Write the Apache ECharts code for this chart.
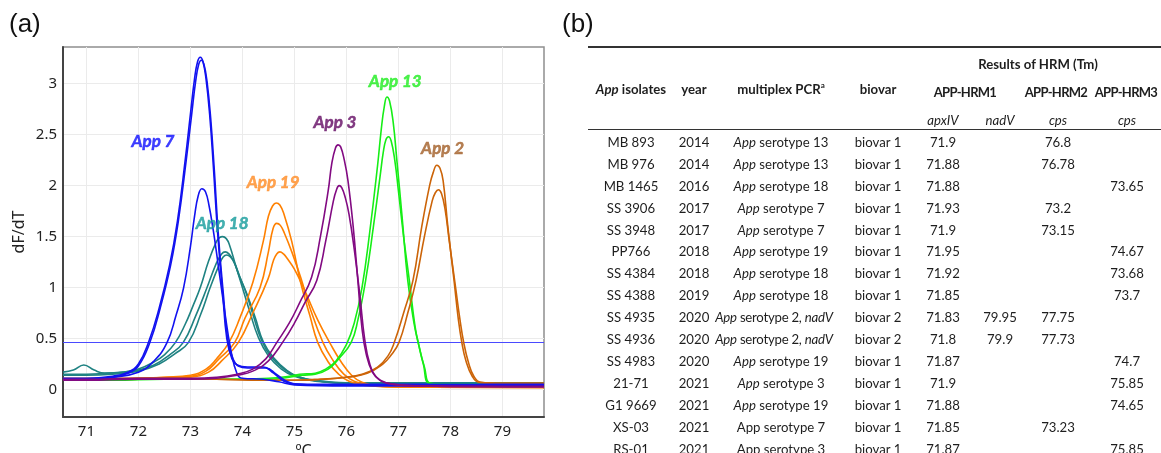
<!DOCTYPE html>
<html><head><meta charset="utf-8">
<script src="https://cdn.jsdelivr.net/npm/echarts@6/dist/echarts.min.js"></script>
<style>
html,body{margin:0;padding:0;background:#fff;width:1161px;height:453px;overflow:hidden;}
#chart{position:absolute;left:0;top:0;width:1161px;height:453px;}
.t{position:absolute;white-space:nowrap;font-family:Lato,'Open Sans',sans-serif;font-size:13.2px;color:#1e1e1e;text-align:center;width:200px;line-height:16px;}
.b{font-weight:bold;}
.n{letter-spacing:-0.7px;font-size:13px;}
.s{letter-spacing:-0.25px;}
.rule{position:absolute;background:#333;}
.panel{position:absolute;font-family:'Liberation Sans',Arial,sans-serif;font-size:26px;color:#111;line-height:30px;}
sup{font-size:8px;vertical-align:6px;line-height:0;}
</style></head><body>
<div id="chart"></div>
<div id="table"></div>
<script>
// ---------- panel (a) data ----------
const tempTicks = [71,72,73,74,75,76,77,78,79];
const dfTicks = [0,0.5,1,1.5,2,2.5,3];
const threshold = 0.46;

// App 7 (blue)
const app7a = [[70.55,0.11],[71.0,0.11],[71.5,0.13],[71.8,0.17],[72.0,0.25],[72.2,0.47],[72.4,0.8],[72.6,1.22],[72.75,1.65],[72.9,2.25],[73.0,2.7],[73.08,3.05],[73.14,3.22],[73.19,3.26],[73.24,3.22],[73.3,3.05],[73.37,2.7],[73.44,2.2],[73.52,1.56],[73.62,0.95],[73.7,0.5],[73.8,0.3],[73.9,0.24],[74.1,0.22],[74.4,0.22],[74.6,0.16],[74.8,0.08],[75.0,0.055],[75.5,0.05],[77,0.05],[79.8,0.05]];
const app7b = [[70.55,0.1],[71.0,0.1],[71.5,0.12],[71.8,0.16],[72.0,0.23],[72.22,0.46],[72.42,0.8],[72.62,1.22],[72.77,1.66],[72.92,2.25],[73.02,2.68],[73.1,3.02],[73.16,3.19],[73.21,3.23],[73.26,3.19],[73.32,3.02],[73.39,2.66],[73.46,2.15],[73.54,1.5],[73.64,0.9],[73.72,0.48],[73.82,0.3],[73.92,0.23],[74.1,0.21],[74.45,0.21],[74.65,0.15],[74.85,0.08],[75.05,0.05],[75.5,0.045],[77,0.045],[79.8,0.045]];
const app7c = [[70.55,0.09],[71.0,0.1],[71.5,0.12],[72.0,0.17],[72.3,0.28],[72.55,0.46],[72.72,0.72],[72.87,1.0],[73.0,1.4],[73.08,1.7],[73.15,1.9],[73.22,1.97],[73.29,1.94],[73.36,1.8],[73.44,1.56],[73.5,1.35],[73.65,0.8],[73.78,0.38],[73.9,0.15],[74.0,0.11],[74.4,0.1],[74.7,0.075],[75.0,0.045],[76,0.035],[79.8,0.035]];
// App 18 (teal)
const app18a = [[70.55,0.17],[70.75,0.19],[70.95,0.24],[71.15,0.19],[71.35,0.16],[71.7,0.17],[72.0,0.2],[72.3,0.27],[72.5,0.34],[72.71,0.46],[72.9,0.64],[73.05,0.82],[73.19,1.0],[73.35,1.26],[73.5,1.45],[73.56,1.49],[73.62,1.5],[73.69,1.48],[73.75,1.42],[73.88,1.2],[74.0,1.0],[74.15,0.75],[74.3,0.52],[74.5,0.33],[74.75,0.2],[75.0,0.13],[75.4,0.08],[76.0,0.065],[77,0.06],[78,0.06],[79.8,0.06]];
const app18b = [[70.55,0.15],[71.0,0.15],[71.5,0.16],[72.0,0.19],[72.3,0.24],[72.6,0.34],[72.86,0.46],[73.1,0.72],[73.32,1.0],[73.5,1.24],[73.6,1.33],[73.67,1.35],[73.74,1.33],[73.82,1.27],[73.95,1.1],[74.07,0.95],[74.2,0.74],[74.37,0.48],[74.55,0.32],[74.8,0.2],[75.05,0.13],[75.4,0.09],[76,0.065],[77,0.065],[79.8,0.065]];
const app18c = [[70.55,0.14],[71.0,0.14],[71.5,0.15],[72.0,0.18],[72.4,0.25],[72.7,0.35],[72.96,0.46],[73.2,0.74],[73.38,1.0],[73.55,1.22],[73.63,1.3],[73.7,1.32],[73.77,1.3],[73.85,1.24],[73.97,1.08],[74.1,0.92],[74.25,0.7],[74.4,0.47],[74.6,0.31],[74.85,0.19],[75.1,0.12],[75.5,0.08],[76,0.06],[79.8,0.055]];
// App 19 (orange)
const app19a = [[70.55,0.1],[71,0.1],[71.5,0.1],[72,0.11],[72.5,0.12],[73,0.14],[73.3,0.2],[73.5,0.3],[73.74,0.46],[73.95,0.7],[74.2,1.05],[74.4,1.45],[74.5,1.7],[74.58,1.8],[74.65,1.83],[74.72,1.81],[74.8,1.72],[74.95,1.45],[75.12,1.05],[75.3,0.72],[75.45,0.46],[75.65,0.27],[75.85,0.15],[76.05,0.08],[76.35,0.04],[77,0.025],[79.8,0.02]];
const app19b = [[70.55,0.1],[71,0.1],[72,0.11],[72.6,0.12],[73.0,0.13],[73.3,0.18],[73.55,0.3],[73.85,0.46],[74.05,0.7],[74.34,1.0],[74.5,1.35],[74.59,1.58],[74.66,1.63],[74.73,1.61],[74.81,1.53],[74.95,1.35],[75.12,1.1],[75.3,0.8],[75.55,0.46],[75.75,0.28],[75.95,0.15],[76.15,0.08],[76.45,0.04],[77,0.025],[79.8,0.02]];
const app19c = [[70.55,0.09],[71,0.09],[72,0.1],[72.6,0.11],[73.0,0.12],[73.35,0.17],[73.6,0.28],[73.92,0.46],[74.2,0.75],[74.49,1.08],[74.6,1.27],[74.66,1.33],[74.72,1.35],[74.79,1.33],[74.87,1.28],[75.0,1.18],[75.2,0.97],[75.45,0.68],[75.7,0.44],[75.9,0.27],[76.1,0.14],[76.3,0.07],[76.6,0.035],[77,0.025],[79.8,0.02]];
// App 3 (purple)
const app3a = [[70.55,0.1],[71,0.1],[72,0.11],[73,0.11],[73.5,0.12],[73.9,0.15],[74.2,0.2],[74.45,0.3],[74.66,0.46],[74.9,0.65],[75.1,0.85],[75.33,1.1],[75.5,1.5],[75.65,1.95],[75.72,2.22],[75.79,2.37],[75.84,2.4],[75.89,2.38],[75.96,2.25],[76.03,2.05],[76.13,1.6],[76.22,1.07],[76.3,0.6],[76.38,0.35],[76.5,0.17],[76.65,0.09],[76.9,0.05],[77.5,0.035],[78.5,0.03],[79.8,0.03]];
const app3b = [[70.55,0.09],[71,0.09],[72,0.1],[73,0.1],[73.5,0.11],[73.9,0.14],[74.2,0.18],[74.5,0.28],[74.77,0.46],[75.0,0.65],[75.2,0.85],[75.43,1.07],[75.6,1.45],[75.75,1.85],[75.81,1.96],[75.86,2.0],[75.91,1.98],[75.98,1.88],[76.05,1.72],[76.15,1.38],[76.26,0.92],[76.35,0.5],[76.45,0.25],[76.58,0.12],[76.8,0.06],[77.3,0.035],[79.8,0.025]];
// App 13 (green)
const app13a = [[70.55,0.1],[71.5,0.1],[72.5,0.1],[73.5,0.1],[74.5,0.11],[74.9,0.13],[75.1,0.15],[75.4,0.16],[75.6,0.2],[75.8,0.28],[76.0,0.44],[76.15,0.65],[76.3,1.0],[76.45,1.55],[76.6,2.2],[76.67,2.55],[76.73,2.78],[76.78,2.87],[76.83,2.83],[76.9,2.62],[76.97,2.25],[77.07,1.7],[77.18,1.07],[77.3,0.65],[77.38,0.46],[77.48,0.25],[77.6,0.06],[78,0.05],[79.8,0.05]];
const app13b = [[70.55,0.09],[71.5,0.09],[72.5,0.1],[73.5,0.1],[74.5,0.1],[74.9,0.12],[75.15,0.14],[75.4,0.15],[75.65,0.2],[75.85,0.3],[76.09,0.46],[76.22,0.68],[76.37,1.07],[76.52,1.6],[76.65,2.1],[76.71,2.33],[76.76,2.45],[76.81,2.48],[76.86,2.44],[76.93,2.25],[77.0,1.95],[77.1,1.5],[77.21,1.07],[77.32,0.62],[77.4,0.42],[77.5,0.22],[77.62,0.06],[78,0.05],[79.8,0.05]];
// App 2 (brown)
const app2a = [[70.55,0.11],[71.5,0.11],[72.5,0.11],[73.5,0.1],[74.5,0.09],[75.0,0.09],[75.5,0.1],[76.0,0.12],[76.3,0.15],[76.6,0.22],[76.8,0.33],[76.92,0.46],[77.1,0.75],[77.28,1.07],[77.45,1.6],[77.6,2.0],[77.67,2.13],[77.74,2.2],[77.8,2.17],[77.86,2.05],[77.95,1.6],[78.07,1.07],[78.15,0.7],[78.22,0.46],[78.3,0.28],[78.42,0.13],[78.55,0.07],[79,0.06],[79.8,0.06]];
const app2b = [[70.55,0.1],[71.5,0.1],[72.5,0.1],[73.5,0.1],[74.5,0.09],[75.0,0.09],[75.5,0.1],[76.0,0.12],[76.4,0.16],[76.7,0.25],[76.85,0.33],[77.01,0.46],[77.18,0.75],[77.34,1.07],[77.5,1.5],[77.65,1.85],[77.71,1.93],[77.77,1.96],[77.83,1.92],[77.9,1.76],[77.98,1.45],[78.1,1.0],[78.18,0.7],[78.26,0.45],[78.35,0.26],[78.45,0.13],[78.58,0.07],[79,0.06],[79.8,0.06]];

// curve annotations: label text, temperature, dF/dT
const annoText = ['App 7','App 18','App 19','App 3','App 13','App 2'];
const annoTemp = [72.28,73.61,74.59,75.78,76.94,77.85];
const annoDf   = [2.43,1.63,2.03,2.62,3.02,2.36];

// ---------- panel (b) data ----------
const isolates = ['MB 893','MB 976','MB 1465','SS 3906','SS 3948','PP766','SS 4384','SS 4388','SS 4935','SS 4936','SS 4983','21-71','G1 9669','XS-03','RS-01'];
const years = ['2014','2014','2016','2017','2017','2018','2018','2019','2020','2020','2020','2021','2021','2021','2021'];
const pcr = ['App serotype 13','App serotype 13','App serotype 18','App serotype 7','App serotype 7','App serotype 19','App serotype 18','App serotype 18','App serotype 2, nadV','App serotype 2, nadV','App serotype 19','App serotype 3','App serotype 19','App serotype 7','App serotype 3'];
const pcrItalic = [1,1,1,1,1,1,1,1,1,1,1,1,1,0,0];
const biovar = ['biovar 1','biovar 1','biovar 1','biovar 1','biovar 1','biovar 1','biovar 1','biovar 1','biovar 2','biovar 2','biovar 1','biovar 1','biovar 1','biovar 1','biovar 1'];
const apxIV = ['71.9','71.88','71.88','71.93','71.9','71.95','71.92','71.85','71.83','71.8','71.87','71.9','71.88','71.85','71.87'];
const nadV = ['','','','','','','','','79.95','79.9','','','','',''];
const cpsHRM2 = ['76.8','76.78','','73.2','73.15','','','','77.75','77.73','','','','73.23',''];
const cpsHRM3 = ['','','73.65','','','74.67','73.68','73.7','','','74.7','75.85','74.65','','75.85'];

// ---------- styles ----------
const C7='#1212f0', C18='#1f8282', C19='#ff8000', C3='#820a82', C13='#16ee16', C2='#cc6408';
const annoColor = ['#1010ff','#169c9c','#ff8c26','#640c64','#22ee22','#a35f28'];
const curves = [
  [app18a,C18],[app18b,C18],[app18c,C18],
  [app19a,C19],[app19b,C19],[app19c,C19],
  [app13a,C13],[app13b,C13],
  [app2a,C2],[app2b,C2],
  [app7c,C7],[app7a,C7],[app7b,C7],
  [app3a,C3],[app3b,C3]
];
const font = "'Noto Sans', 'Open Sans', sans-serif";

const series = curves.map(([d,c],i)=>({
  type:'line', data:d, showSymbol:false, smooth:0.45,
  lineStyle:{color:c,width:1.6}, itemStyle:{color:c}, silent:true, z:2+i,
  markLine: i===0 ? {silent:true,symbol:'none',label:{show:false},
    lineStyle:{color:'#4a4aff',width:1,type:'solid'},data:[{yAxis:threshold}]} : undefined
}));
series.push({
  type:'scatter', symbolSize:0, z:30, silent:true, itemStyle:{color:'transparent'},
  data: annoText.map((t,i)=>({value:[annoTemp[i],annoDf[i]], name:t,
    label:{color:annoColor[i], textBorderColor:annoColor[i]}})),
  label:{show:true, position:'inside', formatter:p=>p.name, textBorderWidth:0.5,
    fontFamily:"Lato, 'Open Sans', sans-serif", fontSize:17, fontWeight:'bold', fontStyle:'italic'}
});

const chart = echarts.init(document.getElementById('chart'), null, {renderer:'canvas'});
chart.setOption({
  animation:false,
  backgroundColor:'#fff',
  grid:{left:63,top:47,width:481,height:370,show:true,borderColor:'#8f8f8f',borderWidth:1.5,
    containLabel:false,outerBoundsMode:'none'},
  xAxis:{type:'value',min:70.55,max:79.8,
    name:'ºC',nameLocation:'middle',nameGap:26,nameTextStyle:{fontFamily:font,fontSize:16,color:'#222',verticalAlign:'top'},
    axisLine:{onZero:false,lineStyle:{color:'#444',width:2}},
    axisTick:{show:false,customValues:tempTicks},
    axisLabel:{customValues:tempTicks,fontFamily:font,fontSize:15,color:'#222',margin:7},
    splitLine:{show:true,lineStyle:{color:'#ebebeb',width:1}}},
  yAxis:{type:'value',min:-0.27,max:3.36,
    name:'dF/dT',nameLocation:'middle',nameGap:36,nameRotate:90,nameTextStyle:{fontFamily:font,fontSize:16,color:'#222'},
    axisLine:{show:true,lineStyle:{color:'#444',width:2}},
    axisTick:{show:false,customValues:dfTicks},
    axisLabel:{customValues:dfTicks,fontFamily:font,fontSize:15,color:'#222',margin:6},
    splitLine:{show:true,lineStyle:{color:'#ebebeb',width:1}}},
  series:series
});

// ---------- panel labels & table ----------
const root = document.getElementById('table');
function put(html, cx, cy, cls){
  const d=document.createElement('div');
  d.className='t '+(cls||'');
  d.style.left=(cx-100)+'px'; d.style.top=(cy-8)+'px';
  d.innerHTML=html; root.appendChild(d);
}
function rule(x,y,w,h){const d=document.createElement('div');d.className='rule';
  d.style.left=x+'px';d.style.top=y+'px';d.style.width=w+'px';d.style.height=h+'px';root.appendChild(d);}
function panel(t,x,y){const d=document.createElement('div');d.className='panel';d.style.left=x+'px';d.style.top=y+'px';d.textContent=t;root.appendChild(d);}

panel('(a)',9,8); panel('(b)',562,8);
rule(588,45.5,573,2); rule(588,128.5,573,1.5);
const colX=[631,694,781,878,943,1000,1058,1127];
put('Results of HRM (Tm)',1038,64,'b');
put('<i>App</i> isolates',colX[0],89,'b');
put('year',colX[1],89,'b');
put('multiplex PCR<sup>a</sup>',colX[2],89,'b');
put('biovar',colX[3],89,'b');
put('APP-HRM1',965,92,'b n');
put('APP-HRM2',1056,92,'b n');
put('APP-HRM3',1126,92,'b n');
put('<i>apxIV</i>',colX[4],120); put('<i>nadV</i>',colX[5],120);
put('<i>cps</i>',colX[6],120); put('<i>cps</i>',colX[7],120);
const rowY0=141.7, rowStep=21.95;
isolates.forEach((iso,i)=>{
  const y=rowY0+i*rowStep;
  let p=pcr[i];
  const wide = p.indexOf('nadV')>=0;
  if(pcrItalic[i]) p=p.replace('App','<i>App</i>').replace('nadV','<i>nadV</i>');
  put(iso,colX[0],y); put(years[i],colX[1],y);
  put(p, wide?774:colX[2], y, wide?'s':'');
  put(biovar[i],colX[3],y); put(apxIV[i],colX[4],y);
  put(nadV[i],colX[5],y); put(cpsHRM2[i],colX[6],y); put(cpsHRM3[i],colX[7],y);
});
</script></body></html>
